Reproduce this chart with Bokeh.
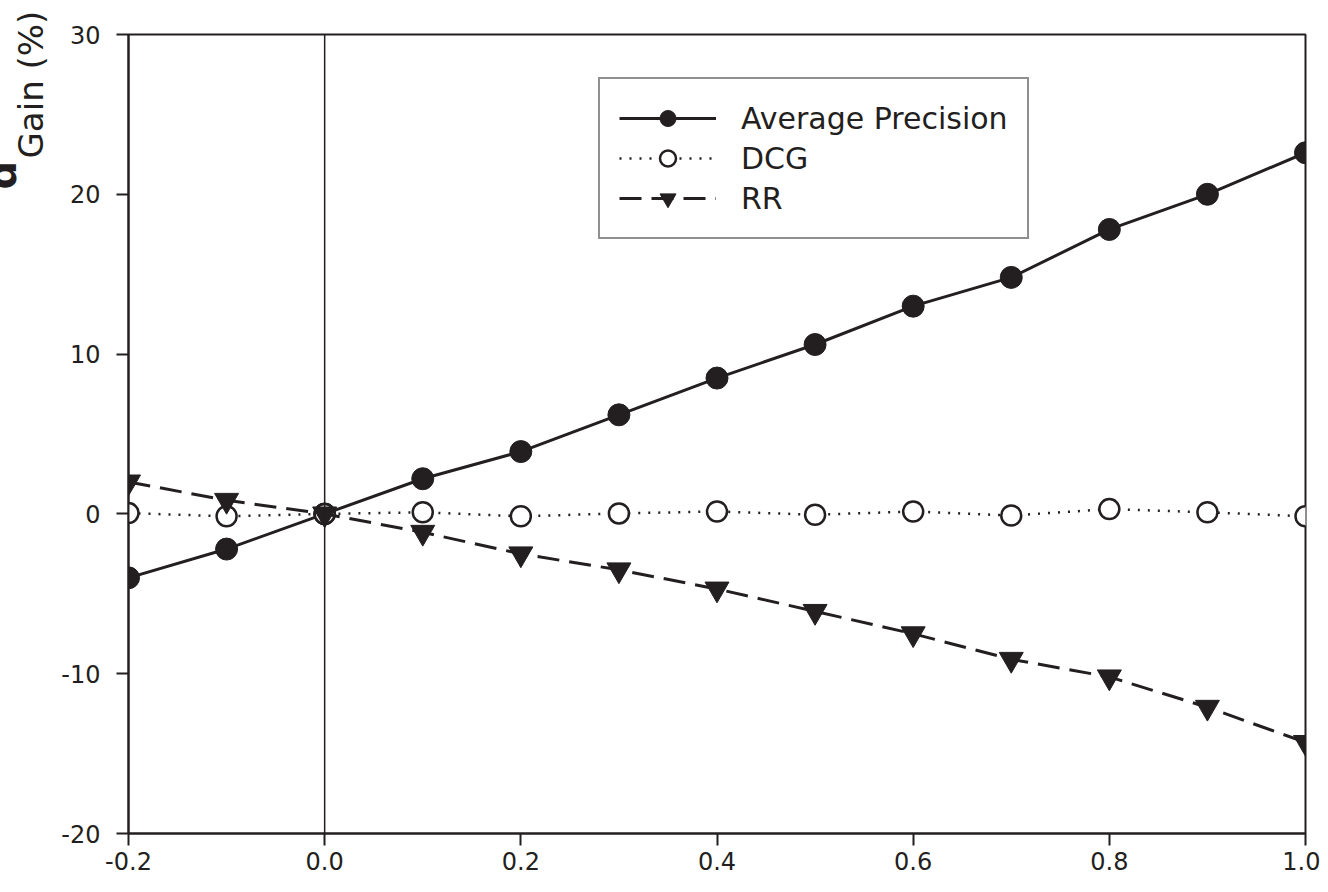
import math
from bokeh.plotting import figure
from bokeh.models import (ColumnDataSource, Span, Title, Legend, LegendItem,
                          FixedTicker, Range1d)
from bokeh.embed import file_html
from bokeh.resources import INLINE

# ---- data ----
x_vals = [-0.2, -0.1, 0.0, 0.1, 0.2, 0.3, 0.4, 0.5, 0.6, 0.7, 0.8, 0.9, 1.0]
avg_precision = [-4.0, -2.2, 0.0, 2.2, 3.9, 6.2, 8.5, 10.6, 13.0, 14.8, 17.8, 20.0, 22.6]
dcg = [0.05, -0.15, 0.0, 0.1, -0.15, 0.03, 0.15, -0.05, 0.15, -0.1, 0.3, 0.1, -0.15]
rr = [2.0, 0.85, 0.0, -1.15, -2.5, -3.5, -4.7, -6.1, -7.5, -9.1, -10.2, -12.1, -14.3]
series_names = ["Average Precision", "DCG", "RR"]
x_ticks = [-0.2, 0.0, 0.2, 0.4, 0.6, 0.8, 1.0]
y_ticks = [-20, -10, 0, 10, 20, 30]
y_title_main = "d"
y_title_sub = "Gain (%)"

INK = "#231f20"
FONT = "DejaVu Sans"

W, H = 1320, 884
p = figure(width=W, height=H, output_backend="svg", toolbar_location=None,
           x_range=Range1d(-0.2, 1.0), y_range=Range1d(-20, 30),
           min_border_left=128, min_border_right=15,
           min_border_top=34, min_border_bottom=51)
p.grid.visible = False
p.outline_line_color = INK
p.outline_line_width = 2
p.background_fill_color = "white"
p.border_fill_color = "white"

for ax in (p.xaxis[0], p.yaxis[0]):
    ax.axis_line_color = INK
    ax.axis_line_width = 2
    ax.major_tick_line_color = INK
    ax.major_tick_line_width = 2
    ax.major_tick_in = 0
    ax.major_tick_out = 12
    ax.minor_tick_line_color = None
    ax.major_label_text_font = FONT
    ax.major_label_text_font_size = "24px"
    ax.major_label_text_color = INK

p.xaxis.ticker = FixedTicker(ticks=x_ticks)
p.yaxis.ticker = FixedTicker(ticks=y_ticks)
p.xaxis.major_label_overrides = {t: f"{t:.1f}" for t in x_ticks}
p.yaxis.major_label_overrides = {t: f"{t:d}" for t in y_ticks}
p.xaxis.major_label_standoff = 6
p.yaxis.major_label_standoff = 16

# zero reference line
p.add_layout(Span(location=0, dimension="height", line_color=INK, line_width=1.5))

src = ColumnDataSource(dict(x=x_vals, ap=avg_precision, dcg=dcg, rr=rr))

l_ap = p.line("x", "ap", source=src, line_color=INK, line_width=3)
m_ap = p.scatter("x", "ap", source=src, marker="circle", size=22,
                 fill_color=INK, line_color=INK, line_width=1)

l_dcg = p.line("x", "dcg", source=src, line_color=INK, line_width=2.5, line_dash="2 8")
m_dcg = p.scatter("x", "dcg", source=src, marker="circle", size=20,
                  fill_color="white", line_color=INK, line_width=2.5)

l_rr = p.line("x", "rr", source=src, line_color=INK, line_width=3, line_dash="22 10")
m_rr = p.scatter("x", "rr", source=src, marker="inverted_triangle", size=24,
                 fill_color=INK, line_color=INK, line_width=1)

legend = Legend(items=[
    LegendItem(label=series_names[0], renderers=[l_ap, m_ap]),
    LegendItem(label=series_names[1], renderers=[l_dcg, m_dcg]),
    LegendItem(label=series_names[2], renderers=[l_rr, m_rr]),
], location=(470, 594))
legend.border_line_color = INK
legend.border_line_width = 2
legend.background_fill_color = "white"
legend.background_fill_alpha = 1
legend.label_text_font = FONT
legend.label_text_font_size = "30px"
legend.label_text_color = INK
legend.glyph_width = 97
legend.glyph_height = 40
legend.label_height = 40
legend.spacing = 0
legend.padding = 19
legend.margin = 0
legend.label_standoff = 25
p.add_layout(legend, "center")

# y-axis title: bold "d" with subscript "Gain (%)"
t_sub = Title(text=y_title_sub, align="left", offset=675, standoff=15,
              vertical_align="bottom", text_font=FONT, text_font_size="34px",
              text_font_style="normal", text_color=INK)
t_main = Title(text=y_title_main, align="left", offset=644, standoff=-47,
               vertical_align="bottom", text_font=FONT, text_font_size="40px",
               text_font_style="bold", text_color=INK)
p.add_layout(t_sub, "left")
p.add_layout(t_main, "left")

open("out.html", "w").write(file_html(p, INLINE))
